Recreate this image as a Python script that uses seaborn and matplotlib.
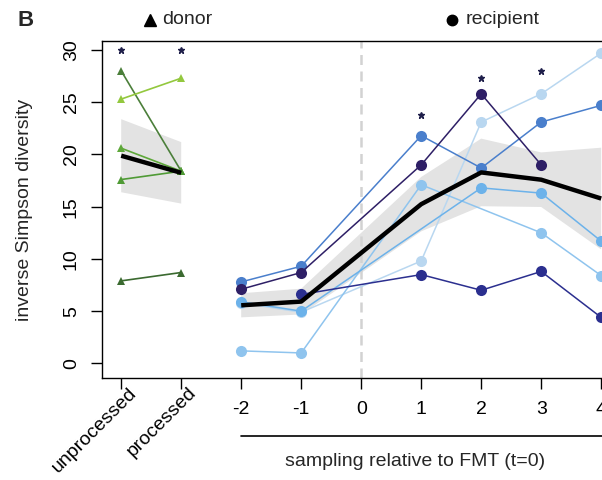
import numpy as np
import pandas as pd
import matplotlib
matplotlib.use("Agg")
import matplotlib.pyplot as plt
import matplotlib.transforms as mtransforms
import seaborn as sns

# ---- donor samples (inverse Simpson), before / after processing ----
donor_stages = ["unprocessed", "processed"]
donor_pos = [-4, -3]
donor_1 = [28.0, 18.4]
donor_2 = [25.3, 27.3]
donor_3 = [20.6, 18.4]
donor_4 = [17.6, 18.4]
donor_5 = [7.9, 8.7]
donor_colors = ["#4b7f3a", "#93c83e", "#5ea83a", "#4f9a35", "#3b6a30"]

# ---- recipient samples, time relative to FMT ----
rec_times = [-2, -1, 1, 2, 3, 4]
rec_1 = [7.1, 8.7, 19.0, 25.8, 19.0, np.nan]
rec_2 = [7.8, 9.3, 21.8, 18.7, 23.1, 24.7]
rec_3 = [np.nan, 6.6, 8.5, 7.0, 8.8, 4.4]
rec_4 = [5.8, 4.9, 9.8, 23.1, 25.8, 29.7]
rec_5 = [1.2, 1.0, 17.1, np.nan, 12.5, 8.4]
rec_6 = [5.9, 5.0, np.nan, 16.8, 16.3, 11.7]
rec_colors = ["#b9d7f0", "#8fc4ee", "#6cb2ea", "#4a7fcc", "#2b2f8f", "#2e1f66"]
rec_order = ["r4", "r5", "r6", "r2", "r3", "r1"]

# significance marks
star_x = [-4, -3, 1, 2, 3]
star_y = [30.0, 30.0, 23.8, 27.3, 28.0]

x_ticks = [-4, -3, -2, -1, 0, 1, 2, 3, 4]
x_ticklabels = donor_stages + ["-2", "-1", "0", "1", "2", "3", "4"]
y_ticks = [0, 5, 10, 15, 20, 25, 30]

sns.set_style("ticks")
plt.rcParams["font.family"] = ["Liberation Sans", "DejaVu Sans"]
plt.rcParams["axes.linewidth"] = 1.0

donor_series = {"d1": donor_1, "d2": donor_2, "d3": donor_3, "d4": donor_4, "d5": donor_5}
donor_df = pd.DataFrame(
    [(k, x, v) for k, vals in donor_series.items() for x, v in zip(donor_pos, vals)],
    columns=["id", "x", "v"],
)
rec_series = {"r1": rec_1, "r2": rec_2, "r3": rec_3, "r4": rec_4, "r5": rec_5, "r6": rec_6}
rec_df = pd.DataFrame(
    [(k, t, v) for k, vals in rec_series.items() for t, v in zip(rec_times, vals)],
    columns=["id", "x", "v"],
).dropna()

fig = plt.figure(figsize=(6.02, 4.8), dpi=100)
ax = fig.add_axes([102 / 602, 102.5 / 480, 518.4 / 602, 336.5 / 480])

# mean +/- standard error, band underneath everything
for df in (donor_df, rec_df):
    n_coll = len(ax.collections)
    sns.lineplot(data=df, x="x", y="v", estimator="mean", errorbar="se",
                 color="black", linewidth=3.2, ax=ax, legend=False)
    for coll in ax.collections[n_coll:]:
        coll.set_facecolor("#e3e3e3")
        coll.set_edgecolor("none")
        coll.set_linewidth(0)
        coll.set_alpha(1)
        coll.set_zorder(0.5)
    ax.lines[-1].set_zorder(4)
    ax.lines[-1].set_solid_capstyle("butt")

# individual donors
sns.lineplot(data=donor_df, x="x", y="v", hue="id",
             palette=dict(zip(donor_series.keys(), donor_colors)),
             marker="^", markersize=5.5, markeredgewidth=0, linewidth=1.2,
             estimator=None, legend=False, ax=ax, zorder=2)

# individual recipients
sns.lineplot(data=rec_df, x="x", y="v", hue="id", hue_order=rec_order,
             palette=dict(zip(rec_order, rec_colors)),
             marker="o", markersize=8, markeredgewidth=0, linewidth=1.1,
             estimator=None, legend=False, ax=ax, zorder=2)

# FMT reference line
ax.axvline(0, color="#d2d2d2", linewidth=1.8, linestyle=(0, (4, 2.6)), zorder=1)

ax.plot(star_x, star_y, linestyle="none", marker="*", markersize=4.5,
        color="#1f1f4a", zorder=5)

ax.set_xlim(-4.32, 4.32)
ax.set_ylim(-1.35, 30.86)
ax.set_xticks(x_ticks)
ax.set_xticklabels(x_ticklabels)
ax.set_yticks(y_ticks)
ax.set_xlabel("")
ax.set_ylabel("")
ax.tick_params(axis="both", direction="out", length=8, width=1.0,
               labelsize=14, colors="black")
ax.tick_params(axis="x", pad=9)
ax.tick_params(axis="y", pad=8, labelrotation=90)
for lab in ax.get_yticklabels():
    lab.set_verticalalignment("center")
for lab in ax.get_xticklabels()[:2]:
    lab.set_rotation(45)
    lab.set_ha("right")
    lab.set_va("top")
    lab.set_rotation_mode("anchor")
    lab.set_transform(lab.get_transform()
                      + mtransforms.ScaledTranslation(7 / 100, 17 / 100, fig.dpi_scale_trans))
for side in ("left", "top", "bottom", "right"):
    ax.spines[side].set_visible(True)
    ax.spines[side].set_color("black")

# bracket under the time axis
trans = mtransforms.blended_transform_factory(ax.transData, ax.transAxes)
ax.plot([-2, 4.05], [-0.1753, -0.1753], color="black", linewidth=1.2,
        transform=trans, clip_on=False)

fig.text(415 / 602, 1 - 461 / 480, "sampling relative to FMT (t=0)",
         ha="center", va="center", fontsize=14)
fig.text(25 / 602, 1 - 210 / 480, "inverse Simpson diversity",
         ha="center", va="center", rotation=90, fontsize=14)
fig.text(26 / 602, 1 - 20 / 480, "B", ha="center", va="center",
         fontsize=16, fontweight="bold")

# key for the two sample types
fig.add_artist(plt.Line2D([150 / 602], [1 - 20 / 480], marker="^", markersize=8,
                          color="black", linestyle="none", transform=fig.transFigure))
fig.add_artist(plt.Line2D([452 / 602], [1 - 20 / 480], marker="o", markersize=7.5,
                          color="black", linestyle="none", transform=fig.transFigure))
fig.text(162 / 602, 1 - 20 / 480, "donor", ha="left", va="center", fontsize=14)
fig.text(466 / 602, 1 - 20 / 480, "recipient", ha="left", va="center", fontsize=14)

fig.savefig("out.png", dpi=100)
